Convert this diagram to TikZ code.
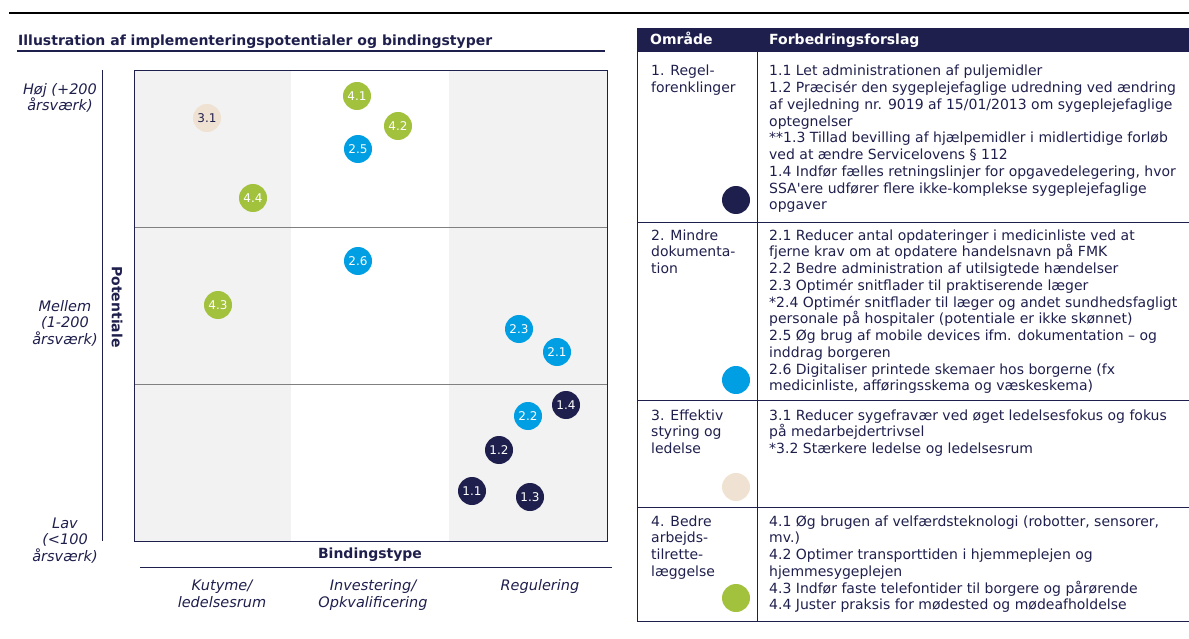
\documentclass[tikz,border=0pt]{standalone}
\usepackage{fontspec}
\setmainfont{DejaVu Sans}[Ligatures=TeXOff]
\definecolor{navy}{RGB}{31,31,77}
\definecolor{bblue}{RGB}{0,158,226}
\definecolor{bgreen}{RGB}{162,193,60}
\definecolor{bbeige}{RGB}{240,226,210}
\definecolor{cellgray}{RGB}{242,242,242}

\begin{document}
\begin{tikzpicture}[x=1pt, y=-1pt,
		bubble/.style={circle, minimum size=28pt, inner sep=0pt, font=\fontsize{12}{13}\selectfont},
		regel/.style={bubble, fill=navy, text=white},
		doku/.style={bubble, fill=bblue, text=white},
		styr/.style={bubble, fill=bbeige, text=navy},
		arb/.style={bubble, fill=bgreen, text=white},
		axislbl/.style={anchor=base, align=center, inner sep=0pt, text=navy, font=\fontsize{14.5}{16.5}\selectfont\itshape},
		boldlbl/.style={inner sep=0pt, text=navy, font=\fontsize{14}{16}\selectfont\bfseries},
		celltxt/.style={anchor=base west, align=left, inner sep=0pt, text=navy, font=\fontsize{14}{16.75}\selectfont}]
		\useasboundingbox (0,0) rectangle (1189,639);

		\draw[line width=2.5pt] (9,13) -- (1189,13);
		\node[anchor=base west, inner sep=0pt, text=navy, font=\fontsize{14}{16}\selectfont\bfseries] (title) at (18,46) {Illustration af implementeringspotentialer og bindingstyper};
		\draw[navy, line width=1.3pt] (17,51) -- (605,51);

		% plot
		\fill[cellgray] (134,70) rectangle (291,541);
		\fill[cellgray] (449,70) rectangle (607,541);
		\draw[gray] (134,227) -- (607,227);
		\draw[gray] (134,384) -- (607,384);
		\draw[navy] (134,70) rectangle (607,541);
		\draw[navy] (102,70) -- (102,541);
		\draw[navy] (140,567) -- (612,567);

		\node[axislbl] (hoj) at (60,111) {Høj (+200\\årsværk)};
		\node[axislbl] (mellem) at (65,344) {Mellem\\(1-200\\årsværk)};
		\node[axislbl] (lav) at (65,561) {Lav\\(<100\\årsværk)};
		\node[boldlbl, rotate=-90] (pot) at (117,307) {Potentiale};
		\node[boldlbl] (bind) at (370,555) {Bindingstype};
		\node[axislbl] (kutyme) at (222,607) {Kutyme/\\ledelsesrum};
		\node[axislbl] (invest) at (373,607) {Investering/\\Opkvalificering};
		\node[axislbl] (regul) at (540,590) {Regulering};

		\node[styr] (p31) at (207,118) {3.1};
		\node[arb] (p41) at (357,96) {4.1};
		\node[arb] (p42) at (398,126) {4.2};
		\node[doku] (p25) at (358,149) {2.5};
		\node[arb] (p44) at (253,198) {4.4};
		\node[doku] (p26) at (358,261) {2.6};
		\node[arb] (p43) at (218,305) {4.3};
		\node[doku] (p23) at (519,329) {2.3};
		\node[doku] (p21) at (557,352) {2.1};
		\node[regel] (p14) at (566,405) {1.4};
		\node[doku] (p22) at (528,416) {2.2};
		\node[regel] (p12) at (499,450) {1.2};
		\node[regel] (p11) at (472,491) {1.1};
		\node[regel] (p13) at (530,497) {1.3};

		% tabel
		\fill[navy] (637,28) rectangle (1195,52);
		\node[celltxt, text=white, font=\fontsize{14}{16}\selectfont\bfseries] (hA) at (650,45) {Område};
		\node[celltxt, text=white, font=\fontsize{14}{16}\selectfont\bfseries] (hB) at (769,45) {Forbedringsforslag};
		\draw[navy] (637,52) -- (637,621) -- (1195,621);
		\draw[navy] (757,52) -- (757,621);
		\draw[navy] (637,222) -- (1195,222);
		\draw[navy] (637,400) -- (1195,400);
		\draw[navy] (637,507) -- (1195,507);

		\node[celltxt] (a1) at (651,92.75) {1. Regel-\\forenklinger};
		\node[celltxt] (t1) at (769,210) {1.1 Let administrationen af puljemidler\\1.2 Præcisér den sygeplejefaglige udredning ved ændring\\af vejledning nr. 9019 af 15/01/2013 om sygeplejefaglige\\optegnelser\\**1.3 Tillad bevilling af hjælpemidler i midlertidige forløb\\ved at ændre Servicelovens § 112\\1.4 Indfør fælles retningslinjer for opgavedelegering, hvor\\SSA'ere udfører flere ikke-komplekse sygeplejefaglige\\opgaver};
		\node[regel] (k1) at (736,200) {};

		\node[celltxt] (a2) at (651,273.5) {2. Mindre\\dokumenta-\\tion};
		\node[celltxt] (t2) at (769,390.75) {2.1 Reducer antal opdateringer i medicinliste ved at\\fjerne krav om at opdatere handelsnavn på FMK\\2.2 Bedre administration af utilsigtede hændelser\\2.3 Optimér snitflader til praktiserende læger\\*2.4 Optimér snitflader til læger og andet sundhedsfagligt\\personale på hospitaler (potentiale er ikke skønnet)\\2.5 Øg brug af mobile devices ifm. dokumentation – og\\inddrag borgeren\\2.6 Digitaliser printede skemaer hos borgerne (fx\\medicinliste, afføringsskema og væskeskema)};
		\node[doku] (k2) at (736,380) {};

		\node[celltxt] (a3) at (651,453.5) {3. Effektiv\\styring og\\ledelse};
		\node[celltxt] (t3) at (769,453.5) {3.1 Reducer sygefravær ved øget ledelsesfokus og fokus\\på medarbejdertrivsel\\*3.2 Stærkere ledelse og ledelsesrum};
		\node[styr] (k3) at (736,487) {};

		\node[celltxt] (a4) at (651,576.25) {4. Bedre\\arbejds-\\tilrette-\\læggelse};
		\node[celltxt] (t4) at (769,609.75) {4.1 Øg brugen af velfærdsteknologi (robotter, sensorer,\\mv.)\\4.2 Optimer transporttiden i hjemmeplejen og\\hjemmesygeplejen\\4.3 Indfør faste telefontider til borgere og pårørende\\4.4 Juster praksis for mødested og mødeafholdelse};
		\node[arb] (k4) at (736,598) {};

	\end{tikzpicture}
\end{document}
